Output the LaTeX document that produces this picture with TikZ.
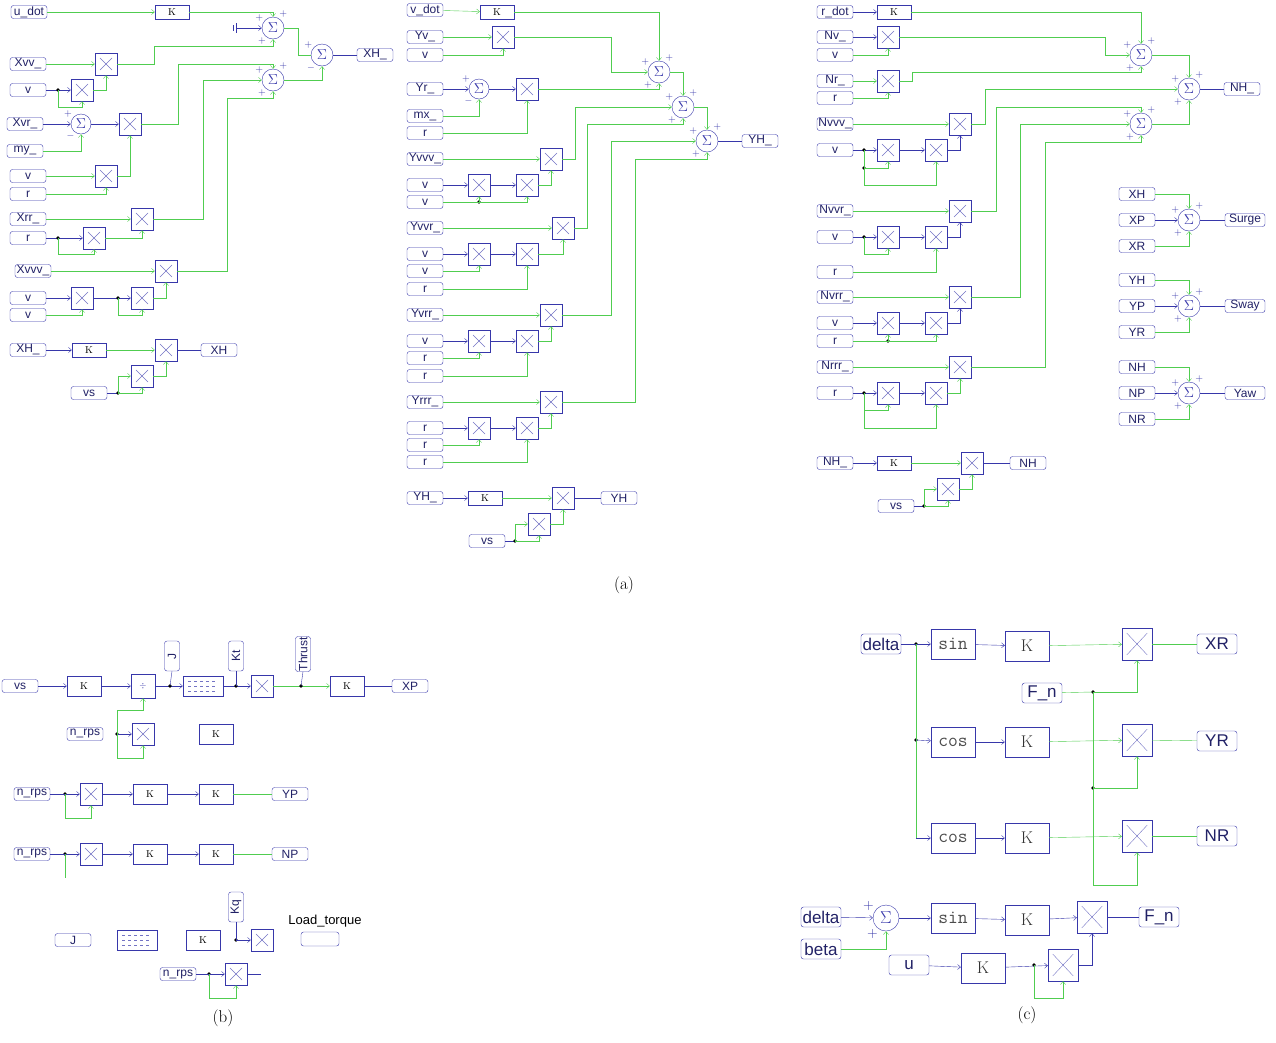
\documentclass[tikz,border=0pt]{standalone}
\usepackage{fontspec}
\newfontfamily\lab{Liberation Sans}
\usetikzlibrary{arrows.meta}
\definecolor{bl}{RGB}{55,55,170}
\definecolor{gr}{RGB}{80,205,80}
\tikzset{
  tag/.style={draw=bl,text=bl!60!black,rounded corners=2.5pt,minimum width=36pt,minimum height=13pt,inner sep=0.5pt,font=\lab\fontsize{12}{12}\selectfont},
  gain/.style={draw=bl,minimum width=34pt,minimum height=14pt,inner sep=0pt,font=\rmfamily\fontsize{10}{10}\selectfont},
  mul/.style={draw=bl,minimum size=22pt,inner sep=0pt,
    path picture={\draw[bl!70,shorten >=7pt,shorten <=7pt] (path picture bounding box.north west)--(path picture bounding box.south east);
                  \draw[bl!70,shorten >=7pt,shorten <=7pt] (path picture bounding box.north east)--(path picture bounding box.south west);}},
  sum/.style={circle,draw=bl,text=bl,minimum size=22pt,inner sep=0pt,font=\fontsize{14}{14}\selectfont},
  sgn/.style={font=\fontsize{10}{10}\selectfont,text=bl,inner sep=0.5pt},
  sum3/.style={sum,label={[sgn]145:+},label={[sgn]60:+},label={[sgn]235:+}},
  sum2/.style={sum,minimum size=20pt,label={[sgn]145:+},label={[sgn]235:$-$}},
  gw/.style={gr,thin},
  bw/.style={bl,thin},
  >={Straight Barb[length=3pt,width=5pt]},
  dashblk/.style={draw=bl,minimum width=40pt,minimum height=20pt,
    path picture={\foreach \dy in {-5,0,5}{\draw[bl!70,dashed] ([xshift=5pt,yshift=\dy pt]path picture bounding box.west)--([xshift=-5pt,yshift=\dy pt]path picture bounding box.east);}}},
  vtag/.style={tag,rotate=90,minimum width=30pt,minimum height=15pt},
  ctag/.style={tag,minimum width=40pt,minimum height=20pt,font=\lab\fontsize{17}{17}\selectfont},
  cfun/.style={draw=bl,minimum width=44pt,minimum height=30pt,font=\ttfamily\fontsize{19}{19}\selectfont,text=black!70},
  cgain/.style={draw=bl,minimum width=44pt,minimum height=30pt,font=\rmfamily\fontsize{17}{17}\selectfont,text=black!80},
  cmul/.style={mul,minimum width=30pt,minimum height=32pt},
  capt/.style={font=\rmfamily\fontsize{17}{17}\selectfont},
}
\newcommand{\jdot}[1]{\fill (#1) circle (1.8pt);}
\begin{document}
\begin{tikzpicture}[x=1pt,y=-1pt]
\useasboundingbox (0,0) rectangle (1276,1042);

% (a) links: XH
\node[tag] (udot) at (29,12) {u\_dot};
\node[gain] (ku) at (172,12) {K};
\node[sum3] (sxa) at (273,28) {$\Sigma$};
\node[sum3] (sxb) at (273,80) {$\Sigma$};
\node[sum,label={[sgn]145:+},label={[sgn]235:$-$}] (sxc) at (322,55) {$\Sigma$};
\node[tag] (xhout) at (375,55) {XH\_};
\coordinate (gnd) at (236,28);
\draw[bw] (gnd)++(0,-5) -- ++(0,10) (gnd)++(-3,-3) -- ++(0,6);
\draw[bw,->] (gnd) -- (sxa.west);
\draw[gw,->] (udot) -- (ku);
\draw[gw,->] (ku) -| (sxa.north);
\node[tag] (xvv) at (28,64) {Xvv\_};
\node[mul] (ma1) at (106,64) {};
\node[tag] (va1) at (28,90) {v};
\node[mul] (ma2) at (82,90) {};
\draw[gw,->] (xvv) -- (ma1);
\draw[bw,->] (va1) -- (ma2);
\jdot{58,90}
\draw[gw,->] (58,90) -- (58,107) -| (ma2.south);
\draw[gw,->] (ma2.east) -| (ma1.south);
\draw[gw,->] (ma1.east) -- (154,64) -- (154,46) -| (sxa.south);
\node[tag] (xvr) at (25,124) {Xvr\_};
\node[sum2] (sva) at (81,124) {$\Sigma$};
\node[mul] (ma3) at (130,124) {};
\node[tag] (mya) at (25,151) {my\_};
\node[tag] (va2) at (28,176) {v};
\node[mul] (ma4) at (106,176) {};
\node[tag] (ra1) at (28,194) {r};
\draw[bw,->] (xvr) -- (sva);
\draw[gw,->] (mya) -| (sva.south);
\draw[bw,->] (sva) -- (ma3);
\draw[gw,->] (va2) -- (ma4);
\draw[gw,->] (ra1) -| (ma4.south);
\draw[gw,->] (ma4.east) -| (ma3.south);
\draw[gw,->] (ma3.east) -- (178,124) -- (178,64) -| (sxb.north);
\node[tag] (xrr) at (28,219) {Xrr\_};
\node[mul] (ma5) at (142,219) {};
\node[tag] (ra2) at (28,238) {r};
\node[mul] (ma6) at (94,238) {};
\draw[gw,->] (xrr) -- (ma5);
\draw[bw,->] (ra2) -- (ma6);
\jdot{58,238}
\draw[gw,->] (58,238) -- (58,254) -| (ma6.south);
\draw[gw,->] (ma6.east) -| (ma5.south);
\draw[gw,->] (ma5.east) -- (203,219) |- (sxb.west);
\node[tag] (xvvv) at (33,271) {Xvvv\_};
\node[mul] (ma7) at (166,271) {};
\node[tag] (va3) at (28,298) {v};
\node[mul] (ma8) at (82,298) {};
\node[mul] (ma9) at (142,298) {};
\node[tag] (va4) at (28,315) {v};
\draw[gw,->] (xvvv) -- (ma7);
\draw[bw,->] (va3) -- (ma8);
\draw[gw,->] (va4) -| (ma8.south);
\draw[bw,->] (ma8) -- (ma9);
\jdot{118,298}
\draw[gw,->] (118,298) -- (118,315) -| (ma9.south);
\draw[gw,->] (ma9.east) -| (ma7.south);
\draw[gw,->] (ma7.east) -- (227,271) -- (227,98) -| (sxb.south);
\draw[gw] (sxa.east) -- (298,28) |- (sxc.west);
\draw[gw,->] (sxb.east) -| (sxc.south);
\draw[bw] (sxc) -- (xhout);
\node[tag] (xhin) at (28,350) {XH\_};
\node[gain] (kx) at (89,350) {K};
\node[mul] (ma10) at (166,350) {};
\node[tag] (xhb) at (219,350) {XH};
\node[mul] (ma11) at (142,376) {};
\node[tag] (vsa) at (89,393) {vs};
\draw[bw,->] (xhin) -- (kx);
\draw[gw,->] (kx) -- (ma10);
\draw[bw] (ma10) -- (xhb);
\draw[gw,->] (ma11.east) -| (ma10.south);
\draw[bw] (vsa) -- (118,393);
\jdot{118,393}
\draw[gw,->] (118,393) |- (ma11.west);
\draw[gw,->] (118,393) -| (ma11.south);

% (a) mitte: YH
\node[tag] (vdot) at (425,10) {v\_dot};
\node[gain] (kv) at (497,12) {K};
\node[sum3] (sya) at (659,72) {$\Sigma$};
\node[sum3] (syb) at (683,107) {$\Sigma$};
\node[sum3] (syc) at (707,141) {$\Sigma$};
\node[tag] (yhout) at (760,141) {YH\_};
\draw[gw,->] (vdot) -- (kv);
\draw[gw,->] (kv) -| (sya.north);
\node[tag] (yv) at (425,37) {Yv\_};
\node[mul] (mb1) at (503,37) {};
\node[tag] (vb1) at (425,55) {v};
\draw[gw,->] (yv) -- (mb1);
\draw[gw,->] (vb1) -| (mb1.south);
\draw[gw,->] (mb1.east) -- (611,37) |- (sya.west);
\node[tag] (yr) at (425,89) {Yr\_};
\node[sum2] (svb) at (479,89) {$\Sigma$};
\node[mul] (mb2) at (527,89) {};
\node[tag] (mxb) at (425,116) {mx\_};
\node[tag] (rb1) at (425,133) {r};
\draw[bw,->] (yr) -- (svb);
\draw[gw,->] (mxb) -| (svb.south);
\draw[bw,->] (svb) -- (mb2);
\draw[gw,->] (rb1) -| (mb2.south);
\draw[gw,->] (mb2.east) -- (659,89) -- (sya.south);
\draw[gw,->] (sya.east) -| (syb.north);
\draw[gw,->] (syb.east) -| (syc.north);
\draw[bw] (syc) -- (yhout);
\node[tag] (yvvv) at (425,159) {Yvvv\_};
\node[mul] (mb3) at (551,159) {};
\node[tag] (vb2) at (425,185) {v};
\node[mul] (mb4) at (479,185) {};
\node[mul] (mb5) at (527,185) {};
\node[tag] (vb3) at (425,202) {v};
\draw[gw,->] (yvvv) -- (mb3);
\draw[bw,->] (vb2) -- (mb4);
\draw[bw,->] (mb4) -- (mb5);
\jdot{479,202}
\draw[gw,->] (vb3) -- (479,202) -- (mb4.south);
\draw[gw,->] (479,202) -| (mb5.south);
\draw[gw,->] (mb5.east) -| (mb3.south);
\draw[gw,->] (mb3.east) -- (575,159) |- (syb.west);
\node[tag] (yvvr) at (425,228) {Yvvr\_};
\node[mul] (mb6) at (563,228) {};
\node[tag] (vb4) at (425,254) {v};
\node[mul] (mb7) at (479,254) {};
\node[mul] (mb8) at (527,254) {};
\node[tag] (vb5) at (425,271) {v};
\node[tag] (rb2) at (425,289) {r};
\draw[gw,->] (yvvr) -- (mb6);
\draw[bw,->] (vb4) -- (mb7);
\draw[bw,->] (mb7) -- (mb8);
\draw[gw,->] (vb5) -| (mb7.south);
\draw[gw,->] (rb2) -| (mb8.south);
\draw[gw,->] (mb8.east) -| (mb6.south);
\draw[gw,->] (mb6.east) -- (587,228) -- (587,124) -| (syb.south);
\node[tag] (yvrr) at (425,315) {Yvrr\_};
\node[mul] (mb9) at (551,315) {};
\node[tag] (vb6) at (425,341) {v};
\node[mul] (mb10) at (479,341) {};
\node[mul] (mb11) at (527,341) {};
\node[tag] (rb3) at (425,358) {r};
\node[tag] (rb4) at (425,376) {r};
\draw[gw,->] (yvrr) -- (mb9);
\draw[bw,->] (vb6) -- (mb10);
\draw[bw,->] (mb10) -- (mb11);
\draw[gw,->] (rb3) -| (mb10.south);
\draw[gw,->] (rb4) -| (mb11.south);
\draw[gw,->] (mb11.east) -| (mb9.south);
\draw[gw,->] (mb9.east) -- (611,315) |- (syc.west);
\node[tag] (yrrr) at (425,402) {Yrrr\_};
\node[mul] (mb12) at (551,402) {};
\node[tag] (rb5) at (425,428) {r};
\node[mul] (mb13) at (479,428) {};
\node[mul] (mb14) at (527,428) {};
\node[tag] (rb6) at (425,445) {r};
\node[tag] (rb7) at (425,462) {r};
\draw[gw,->] (yrrr) -- (mb12);
\draw[bw,->] (rb5) -- (mb13);
\draw[bw,->] (mb13) -- (mb14);
\draw[gw,->] (rb6) -| (mb13.south);
\draw[gw,->] (rb7) -| (mb14.south);
\draw[gw,->] (mb14.east) -| (mb12.south);
\draw[gw,->] (mb12.east) -- (635,402) -- (635,159) -| (syc.south);
\node[tag] (yhin) at (425,498) {YH\_};
\node[gain] (ky) at (485,498) {K};
\node[mul] (mb15) at (563,498) {};
\node[tag] (yhb) at (619,498) {YH};
\node[mul] (mb16) at (539,524) {};
\node[tag] (vsb) at (487,541) {vs};
\draw[bw,->] (yhin) -- (ky);
\draw[gw,->] (ky) -- (mb15);
\draw[bw] (mb15) -- (yhb);
\draw[gw,->] (mb16.east) -| (mb15.south);
\draw[bw] (vsb) -- (515,541);
\jdot{515,541}
\draw[gw,->] (515,541) |- (mb16.west);
\draw[gw,->] (515,541) -| (mb16.south);

% (a) rechts: NH
\node[tag] (rdot) at (835,12) {r\_dot};
\node[gain] (kr) at (894,12) {K};
\node[sum3] (sna) at (1141,55) {$\Sigma$};
\node[sum3] (snb) at (1189,89) {$\Sigma$};
\node[sum3] (snc) at (1141,124) {$\Sigma$};
\node[tag] (nhout) at (1242,89) {NH\_};
\draw[bw,->] (rdot) -- (kr);
\draw[gw,->] (kr) -| (sna.north);
\node[tag] (nv) at (835,37) {Nv\_};
\node[mul] (mc1) at (888,37) {};
\node[tag] (vc1) at (835,55) {v};
\draw[bw,->] (nv) -- (mc1);
\draw[gw,->] (vc1) -| (mc1.south);
\draw[gw,->] (mc1.east) -- (1105,37) |- (sna.west);
\node[tag] (nr) at (835,81) {Nr\_};
\node[mul] (mc2) at (888,81) {};
\node[tag] (rc1) at (835,98) {r};
\draw[gw,->] (nr) -- (mc2);
\draw[gw,->] (rc1) -| (mc2.south);
\draw[gw,->] (mc2.east) -- (912,81) -- (912,72) -| (sna.south);
\draw[gw,->] (sna.east) -| (snb.north);
\draw[gw,->] (snc.east) -| (snb.south);
\draw[bw] (snb) -- (nhout);
\node[tag] (nvvv) at (835,124) {Nvvv\_};
\node[mul] (mc3) at (960,124) {};
\node[tag] (vc2) at (835,150) {v};
\node[mul] (mc4) at (888,150) {};
\node[mul] (mc5) at (936,150) {};
\draw[gw,->] (nvvv) -- (mc3);
\draw[bw,->] (vc2) -- (mc4);
\draw[bw,->] (mc4) -- (mc5);
\jdot{864,150}
\jdot{864,168}
\draw[gw,->] (864,150) -- (864,168) -| (mc4.south);
\draw[gw,->] (864,168) -- (864,185) -| (mc5.south);
\draw[bw,->] (mc5.east) -| (mc3.south);
\draw[gw,->] (mc3.east) -- (985,124) |- (snb.west);
\node[tag] (nvvr) at (835,211) {Nvvr\_};
\node[mul] (mc6) at (960,211) {};
\node[tag] (vc3) at (835,237) {v};
\node[mul] (mc7) at (888,237) {};
\node[mul] (mc8) at (936,237) {};
\node[tag] (rc2) at (835,272) {r};
\draw[gw,->] (nvvr) -- (mc6);
\draw[bw,->] (vc3) -- (mc7);
\draw[bw,->] (mc7) -- (mc8);
\jdot{864,237}
\draw[gw,->] (864,237) -- (864,254) -| (mc7.south);
\draw[gw,->] (rc2) -| (mc8.south);
\draw[bw,->] (mc8.east) -| (mc6.south);
\draw[gw,->] (mc6.east) -- (996,211) -- (996,107) -| (snc.north);
\node[tag] (nvrr) at (835,297) {Nvrr\_};
\node[mul] (mc9) at (960,297) {};
\node[tag] (vc4) at (835,323) {v};
\node[mul] (mc10) at (888,323) {};
\node[mul] (mc11) at (936,323) {};
\node[tag] (rc3) at (835,341) {r};
\draw[gw,->] (nvrr) -- (mc9);
\draw[bw,->] (vc4) -- (mc10);
\draw[bw,->] (mc10) -- (mc11);
\jdot{888,341}
\draw[gw,->] (rc3) -- (888,341) -- (mc10.south);
\draw[gw,->] (888,341) -| (mc11.south);
\draw[bw,->] (mc11.east) -| (mc9.south);
\draw[gw,->] (mc9.east) -- (1020,297) |- (snc.west);
\node[tag] (nrrr) at (835,367) {Nrrr\_};
\node[mul] (mc12) at (960,367) {};
\node[tag] (rc4) at (835,393) {r};
\node[mul] (mc13) at (888,393) {};
\node[mul] (mc14) at (936,393) {};
\draw[gw,->] (nrrr) -- (mc12);
\draw[bw,->] (rc4) -- (mc13);
\draw[bw,->] (mc13) -- (mc14);
\jdot{864,393}
\draw[gw,->] (864,393) -- (864,410) -| (mc13.south);
\draw[gw,->] (864,410) -- (864,428) -| (mc14.south);
\draw[gw,->] (mc14.east) -| (mc12.south);
\draw[gw,->] (mc12.east) -- (1045,367) -- (1045,142) -| (snc.south);
\node[tag] (nhin) at (835,463) {NH\_};
\node[gain] (kn) at (894,463) {K};
\node[mul] (mc15) at (972,463) {};
\node[tag] (nhb) at (1028,463) {NH};
\node[mul] (mc16) at (948,489) {};
\node[tag] (vsc) at (896,506) {vs};
\draw[bw,->] (nhin) -- (kn);
\draw[gw,->] (kn) -- (mc15);
\draw[bw] (mc15) -- (nhb);
\draw[gw,->] (mc16.east) -| (mc15.south);
\draw[bw] (vsc) -- (924,506);
\jdot{924,506}
\draw[gw,->] (924,506) |- (mc16.west);
\draw[gw,->] (924,506) -| (mc16.south);

% Summen Surge, Sway, Yaw
\foreach \a/\b/\c/\o/\y in {XH/XP/XR/Surge/220,YH/YP/YR/Sway/306,NH/NP/NR/Yaw/393}{
  \node[tag] (t\a) at (1137,\y-26) {\a};
  \node[tag] (t\b) at (1137,\y) {\b};
  \node[tag] (t\c) at (1137,\y+26) {\c};
  \node[sum3] (s\o) at (1189,\y) {$\Sigma$};
  \node[tag,minimum width=40pt] (o\o) at (1245,\y) {\o};
  \draw[gw,->] (t\a) -| (s\o.north);
  \draw[bw,->] (t\b) -- (s\o);
  \draw[gw,->] (t\c) -| (s\o.south);
  \draw[bw] (s\o) -- (o\o);
}
\node[capt] (capa) at (624,585) {(a)};

% (b)
\node[tag] (vsd) at (20,686) {vs};
\node[gain,minimum height=20pt] (kd1) at (84,686) {K};
\node[draw=bl,minimum width=24pt,minimum height=24pt,text=bl,font=\small] (divd) at (143,686) {$\div$};
\node[dashblk] (dd1) at (203,686) {};
\node[mul] (md1) at (262,686) {};
\node[gain,minimum height=20pt] (kd2) at (347,686) {K};
\node[tag] (xpd) at (410,686) {XP};
\node[vtag] (jd) at (172,656) {J};
\node[vtag] (ktd) at (236,656) {Kt};
\node[vtag,minimum width=34pt] (thd) at (303,654) {Thrust};
\draw[bw,->] (vsd) -- (kd1);
\draw[bw,->] (kd1) -- (divd);
\draw[bw,->] (divd) -- (dd1);
\draw[bw,->] (dd1) -- (md1);
\draw[gw,->] (md1) -- (kd2);
\draw[bw] (kd2) -- (xpd);
\jdot{170,686} \jdot{236,686} \jdot{301,686}
\draw[bw] (jd.west) -- (170,686);
\draw[bw] (ktd.west) -- (236,686);
\draw[bw] (thd.west) -- (301,686);
\node[tag] (nrd1) at (85,734) {n\_rps};
\node[mul] (md2) at (143,734) {};
\node[gain,minimum height=20pt] (kd3) at (216,734) {K};
\jdot{117,734}
\draw[bw,->] (117,734) -- (md2);
\draw[gw,->] (117,734) -- (117,758) -| (md2.south);
\draw[gw,->] (117,734) -- (117,710) -| (divd.south);
\node[tag] (nrd2) at (32,794) {n\_rps};
\node[mul] (md3) at (91,794) {};
\node[gain,minimum height=20pt] (kd4) at (150,794) {K};
\node[gain,minimum height=20pt] (kd5) at (216,794) {K};
\node[tag] (ypd) at (290,794) {YP};
\jdot{65,794}
\draw[bw,->] (nrd2) -- (md3);
\draw[gw,->] (65,794) -- (65,818) -| (md3.south);
\draw[bw,->] (md3) -- (kd4);
\draw[bw,->] (kd4) -- (kd5);
\draw[gw] (kd5) -- (ypd);
\node[tag] (nrd3) at (32,854) {n\_rps};
\node[mul] (md4) at (91,854) {};
\node[gain,minimum height=20pt] (kd6) at (150,854) {K};
\node[gain,minimum height=20pt] (kd7) at (216,854) {K};
\node[tag] (npd) at (290,854) {NP};
\jdot{65,854}
\draw[bw,->] (nrd3) -- (md4);
\draw[gw] (65,854) -- (65,878);
\draw[bw,->] (md4) -- (kd6);
\draw[bw,->] (kd6) -- (kd7);
\draw[gw] (kd7) -- (npd);
\node[tag] (jd2) at (73,940) {J};
\node[dashblk] (dd2) at (137,940) {};
\node[gain,minimum height=20pt] (kd8) at (203,940) {K};
\node[mul] (md5) at (262,940) {};
\node[vtag] (kqd) at (236,907) {Kq};
\node[font=\lab\fontsize{13}{13}\selectfont] (ltd) at (325,921) {Load\_torque};
\node[tag,minimum width=38pt,minimum height=14pt] (ltt) at (320,939) {};
\jdot{236,940}
\draw[bw] (kqd.west) -- (236,940);
\draw[bw,->] (236,940) -- (md5);
\node[tag] (nrd4) at (178,974) {n\_rps};
\node[mul] (md6) at (236,974) {};
\jdot{209,974}
\draw[bw,->] (nrd4) -- (md6);
\draw[gw,->] (209,974) -- (209,998) -| (md6.south);
\draw[bw] (md6.east) -- ++(14,0);
\node[capt] (capb) at (223,1018) {(b)};

% (c)
\node[ctag] (dlt) at (881,644) {delta};
\node[cfun] (sn1) at (953,644) {sin};
\node[cgain] (kc1) at (1027,646) {K};
\node[cmul] (mr1) at (1137,644) {};
\node[ctag] (xrc) at (1217,644) {XR};
\node[ctag] (fn1) at (1042,693) {F\_n};
\node[cfun] (cs1) at (953,742) {cos};
\node[cgain] (kc2) at (1027,742) {K};
\node[cmul] (mr2) at (1137,740) {};
\node[ctag] (yrc) at (1217,741) {YR};
\node[cfun] (cs2) at (953,838) {cos};
\node[cgain] (kc3) at (1027,838) {K};
\node[cmul] (mr3) at (1137,836) {};
\node[ctag] (nrc) at (1217,836) {NR};
\jdot{916,644} \jdot{916,740}
\draw[bw,->] (dlt) -- (sn1);
\draw[gw] (916,644) -- (916,838);
\draw[bw,->] (916,740) -- (cs1);
\draw[bw,->] (916,838) -- (cs2);
\draw[bw,->] (sn1) -- (kc1);
\draw[bw,->] (cs1) -- (kc2);
\draw[bw,->] (cs2) -- (kc3);
\draw[gw,->] (kc1) -- (mr1);
\draw[gw,->] (kc2) -- (mr2);
\draw[gw,->] (kc3) -- (mr3);
\draw[gw] (mr1) -- (xrc);
\draw[gw] (mr2) -- (yrc);
\draw[gw] (mr3) -- (nrc);
\jdot{1093,692} \jdot{1093,788}
\draw[gw] (fn1) -- (1093,692);
\draw[gw,->] (1093,692) -| (mr1.south);
\draw[gw,->] (1093,788) -| (mr2.south);
\draw[gw,->] (1093,692) -- (1093,885) -| (mr3.south);
\node[ctag] (dlt2) at (821,917) {delta};
\node[sum,minimum size=26pt,font=\fontsize{17}{17}\selectfont,label={[sgn,font=\fontsize{14}{14}\selectfont]150:+},label={[sgn,font=\fontsize{14}{14}\selectfont]235:+}] (sc) at (886,918) {$\Sigma$};
\node[cfun] (sn2) at (953,918) {sin};
\node[cgain] (kc4) at (1027,920) {K};
\node[cmul] (mr4) at (1092,917) {};
\node[ctag] (fn2) at (1159,917) {F\_n};
\node[ctag] (bta) at (821,949) {beta};
\node[ctag,minimum width=40pt] (uc) at (909,965) {u};
\node[cgain] (kc5) at (983,968) {K};
\node[cmul] (mr5) at (1063,965) {};
\draw[bw,->] (dlt2) -- (sc);
\draw[gw,->] (bta) -| (sc.south);
\draw[bw,->] (sc) -- (sn2);
\draw[bw,->] (sn2) -- (kc4);
\draw[bw,->] (kc4) -- (mr4);
\draw[bw] (mr4) -- (fn2);
\draw[bw,->] (uc) -- (kc5);
\jdot{1034,965}
\draw[bw,->] (kc5) -- (mr5);
\draw[gw,->] (1034,965) -- (1034,998) -| (mr5.south);
\draw[bw,->] (mr5.east) -| (mr4.south);
\node[capt] (capc) at (1027,1015) {(c)};
\end{tikzpicture}
\end{document}
